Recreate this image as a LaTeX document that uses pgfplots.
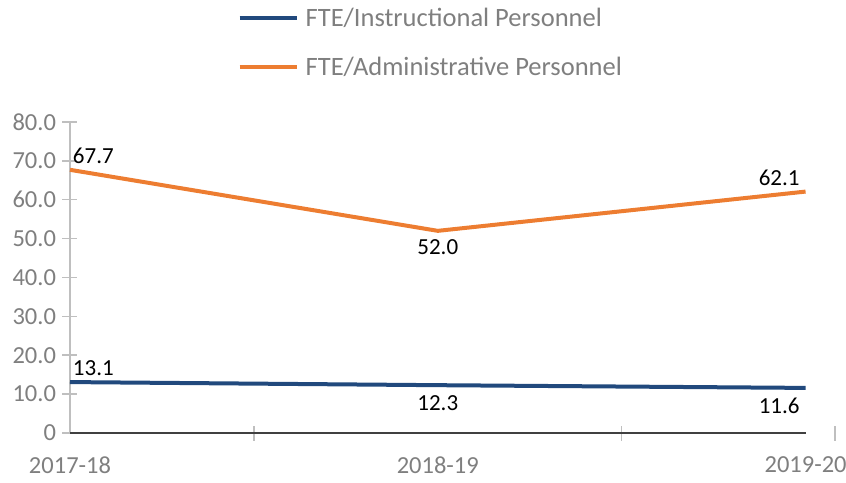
\documentclass[border=0pt]{standalone}
\usepackage{fontspec}
\setmainfont{Carlito}
\usepackage{pgfplots}
\usepackage{pgfplotstable}
\pgfplotsset{compat=1.18}
\definecolor{instblue}{RGB}{33,73,125}
\definecolor{admorange}{RGB}{237,125,49}
\definecolor{tickgray}{RGB}{127,127,127}
\definecolor{axgray}{RGB}{191,191,191}
\definecolor{axdark}{RGB}{64,64,64}

\pgfplotstableread{
x inst adm
0 13.1 67.7
1 12.3 52.0
2 11.6 62.1
}\datatable

\begin{document}
\begin{tikzpicture}
\begin{axis}[
 name=ax,
 scale only axis, width=765pt, height=311pt,
 xmin=0, xmax=2.08, ymin=0, ymax=80,
 clip=false,
 axis x line=bottom, axis y line=left,
 x axis line style={draw=none},
 y axis line style={draw=axgray, line width=1.5pt, -},
 xtick={0.5,1.5,2.08}, xticklabels={},
 extra x ticks={0,1,2}, extra x tick labels={2017-18,2018-19,2019-20},
 extra x tick style={major tick length=0pt, xticklabel style={yshift=-20pt}},
 ytick={0,10,...,80}, yticklabels={0,10.0,20.0,30.0,40.0,50.0,60.0,70.0,80.0},
 tick style={draw=axgray, line width=1.5pt},
 tick align=center, major tick length=15pt,
 tick label style={font=\fontsize{24.5}{28}\selectfont, text=tickgray},
 yticklabel style={xshift=-3pt},
 legend style={draw=none, fill=none, at={(0.219,1.377)}, anchor=north west,
   font=\fontsize{26.5}{31}\selectfont, text=tickgray, row sep=23pt, inner sep=0pt,
   nodes={inner sep=3pt}},
 legend cell align=left,
 legend image code/.code={\draw[#1, line width=4pt] (0pt,0pt) -- (57pt,0pt); \path (61pt,0pt);},
 every node near coord/.append style={font=\fontsize{23}{27}\selectfont, text=black, inner sep=4pt},
]
\addplot[forget plot, axdark, line width=1.5pt] coordinates {(0,0) (2,0)};
\addplot[instblue, line width=4pt, mark=none, nodes near coords, point meta=explicit symbolic,
  coordinate style/.condition={x==0}{anchor=south west, xshift=-3pt},
  coordinate style/.condition={x==1}{anchor=north, yshift=-4pt},
  coordinate style/.condition={x==2}{anchor=north east, yshift=-4pt}]
  table[x=x, y=inst, meta=inst]{\datatable};
\addlegendentry{FTE/Instructional Personnel}
\addplot[admorange, line width=4pt, mark=none, nodes near coords, point meta=explicit symbolic,
  coordinate style/.condition={x==0}{anchor=south west, xshift=-3pt},
  coordinate style/.condition={x==1}{anchor=north, yshift=-3pt},
  coordinate style/.condition={x==2}{anchor=south east}]
  table[x=x, y=adm, meta=adm]{\datatable};
\addlegendentry{FTE/Administrative Personnel}
\end{axis}
\pgfresetboundingbox
\path (ax.south west) ++(-70pt,-49pt) rectangle ++(846pt,482pt);
\end{tikzpicture}
\end{document}
